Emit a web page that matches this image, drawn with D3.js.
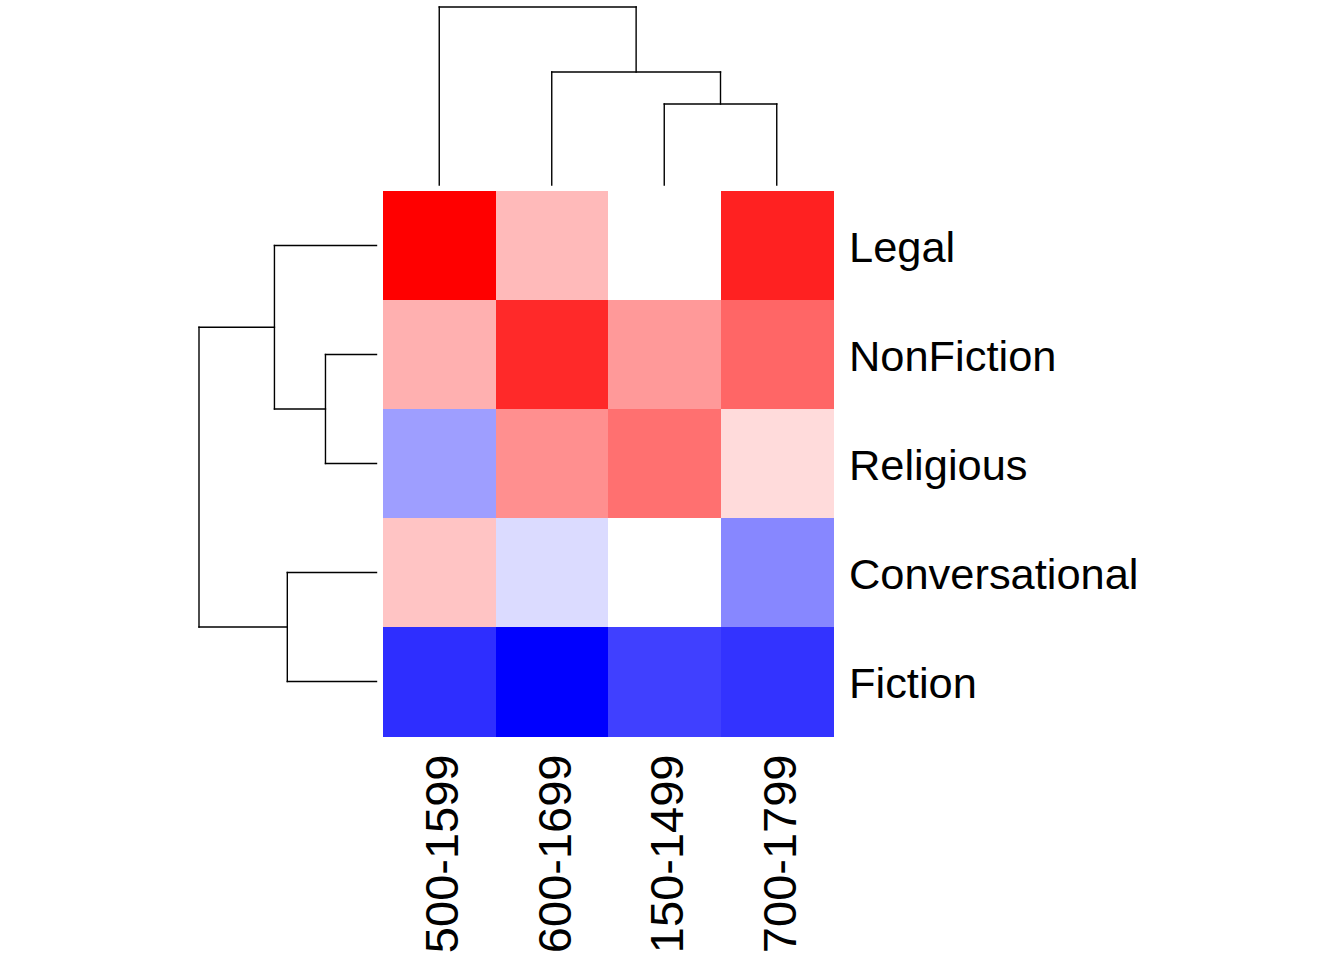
<!DOCTYPE html>
<html>
<head>
<meta charset="utf-8">
<script src="https://cdn.jsdelivr.net/npm/d3@7"></script>
<style>
  html, body { margin: 0; padding: 0; background: #fff; overflow: hidden; }
  svg { display: block; }
  text { font-family: Arial, "Liberation Sans", sans-serif; fill: #000; }
</style>
</head>
<body>
<svg id="chart" width="1344" height="960"></svg>
<script>
// ---- data ----
// column labels as they appear in the picture (their leading "1" runs off the page there)
const colLabels = ["500-1599", "600-1699", "150-1499", "700-1799"];
const rowLabels = ["Legal", "NonFiction", "Religious", "Conversational", "Fiction"];
// standardized values (blue = negative, red = positive), rows x columns in display order
const legalVals          = [ 1.00,  0.27,  0.00,  0.87];
const nonFictionVals     = [ 0.31,  0.84,  0.40,  0.60];
const religiousVals      = [-0.38,  0.44,  0.56,  0.14];
const conversationalVals = [ 0.23, -0.14,  0.00, -0.47];
const fictionVals        = [-0.82, -1.00, -0.75, -0.80];
const values = [legalVals, nonFictionVals, religiousVals, conversationalVals, fictionVals];

// dendrogram merge heights (leaf = index into labels)
const colTree = {h: 4.0, children: [
  {leaf: 0},
  {h: 2.54, children: [
    {leaf: 1},
    {h: 1.82, children: [{leaf: 2}, {leaf: 3}]}
  ]}
]};
const rowTree = {h: 4.0, children: [
  {h: 2.30, children: [
    {leaf: 0},
    {h: 1.15, children: [{leaf: 1}, {leaf: 2}]}
  ]},
  {h: 2.01, children: [{leaf: 3}, {leaf: 4}]}
]};

// ---- layout ----
const svg = d3.select("#chart");
const x = d3.scaleBand().domain(colLabels).range([383, 833]).paddingInner(0).paddingOuter(0);
const y = d3.scaleBand().domain(rowLabels).range([191, 736]).paddingInner(0).paddingOuter(0);
const color = d3.scaleLinear().domain([-1, 0, 1]).range(["#0000ff", "#ffffff", "#ff0000"]).clamp(true);

// heatmap cells
const cells = [];
values.forEach((row, i) => row.forEach((v, j) => cells.push({r: rowLabels[i], c: colLabels[j], v})));
svg.append("g").attr("shape-rendering", "crispEdges")
  .selectAll("rect").data(cells).join("rect")
  .attr("x", d => x(d.c))
  .attr("y", d => y(d.r))
  .attr("width", x.bandwidth() + 0.5)
  .attr("height", y.bandwidth() + 0.5)
  .attr("fill", d => color(d.v));

// row labels
const rowFont = 43.4;
svg.append("g").selectAll("text").data(rowLabels).join("text")
  .attr("x", 849)
  .attr("y", d => y(d) + y.bandwidth() / 2)
  .attr("dy", "0.38em")
  .style("font-size", rowFont + "px")
  .text(d => d);

// column labels (rotated)
const colFont = 47;
svg.append("g").selectAll("text").data(colLabels).join("text")
  .attr("transform", d => `translate(${x(d) + x.bandwidth() / 2},754.5) rotate(-90)`)
  .attr("text-anchor", "end")
  .attr("dy", "0.40em")
  .style("font-size", colFont + "px")
  .text(d => d);

// ---- dendrograms ----
function position(node, leafPos) {
  if (node.leaf !== undefined) { node.p = leafPos(node.leaf); node.hh = 0; return node.p; }
  const ps = node.children.map(ch => position(ch, leafPos));
  node.p = d3.mean(ps);
  node.hh = node.h;
  return node.p;
}
function segments(node, out) {
  if (!node.children) return out;
  const [a, b] = node.children;
  out.push({kind: "cross", p1: a.p, p2: b.p, h: node.hh});
  node.children.forEach(ch => {
    out.push({kind: "stem", p: ch.p, h1: ch.hh, h2: node.hh});
    segments(ch, out);
  });
  return out;
}

const line = d3.line();

// top (column) dendrogram
const colH = d3.scaleLinear().domain([0, 4.0]).range([185, 7]);
position(colTree, i => x(colLabels[i]) + x.bandwidth() / 2);
const colSegs = segments(colTree, []);
svg.append("g").attr("fill", "none").attr("stroke", "#000").attr("stroke-width", 1.4)
  .attr("stroke-linecap", "square")
  .selectAll("path").data(colSegs).join("path")
  .attr("d", s => s.kind === "cross"
    ? line([[s.p1, colH(s.h)], [s.p2, colH(s.h)]])
    : line([[s.p, colH(s.h1)], [s.p, colH(s.h2)]]));

// left (row) dendrogram
const rowH = d3.scaleLinear().domain([0, 4.0]).range([376.5, 199]);
position(rowTree, i => y(rowLabels[i]) + y.bandwidth() / 2);
const rowSegs = segments(rowTree, []);
svg.append("g").attr("fill", "none").attr("stroke", "#000").attr("stroke-width", 1.4)
  .attr("stroke-linecap", "square")
  .selectAll("path").data(rowSegs).join("path")
  .attr("d", s => s.kind === "cross"
    ? line([[rowH(s.h), s.p1], [rowH(s.h), s.p2]])
    : line([[rowH(s.h1), s.p], [rowH(s.h2), s.p]]));
</script>
</body>
</html>
